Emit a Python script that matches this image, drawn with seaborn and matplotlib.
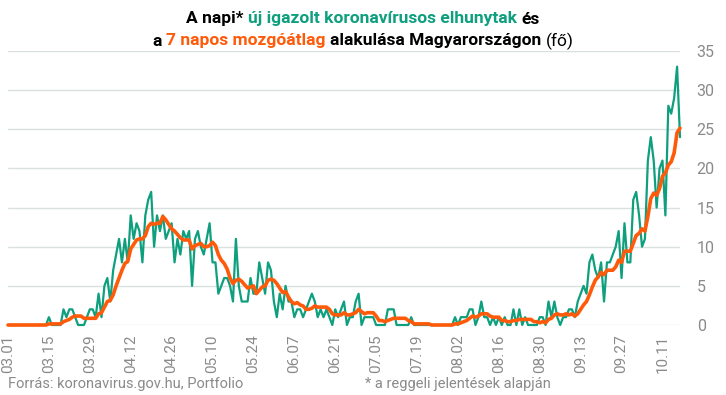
import pandas as pd
import matplotlib.pyplot as plt
import seaborn as sns

# Daily new confirmed COVID deaths in Hungary, 2020-03-01 .. 2020-10-17
start_date = "2020-03-01"
daily_deaths = [
    0, 0, 0, 0, 0, 0, 0, 0, 0, 0, 0, 0, 0, 0,            # 03.01 - 03.14
    1, 0, 0, 0, 0, 2, 1, 2, 2, 1, 0, 0, 0, 1,            # 03.15 - 03.28
    2, 2, 1, 4, 1, 5, 6, 3, 7, 9, 11, 8, 11, 8,          # 03.29 - 04.11
    14, 11, 13, 12, 8, 14, 16, 17, 10, 14, 12, 14, 11, 12,  # 04.12 - 04.25
    13, 8, 11, 9, 12, 11, 12, 5, 11, 12, 10, 9, 11, 13,  # 04.26 - 05.09
    8, 8, 4, 5, 6, 6, 5, 3, 11, 5, 3, 3, 3, 6,           # 05.10 - 05.23
    4, 4, 8, 6, 4, 8, 7, 3, 1, 4, 2, 5, 3, 3,            # 05.24 - 06.06
    1, 2, 2, 1, 2, 3, 4, 3, 1, 2, 1, 2, 1, 0,            # 06.07 - 06.20
    2, 1, 2, 3, 0, 1, 1, 3, 4, 0, 1, 1, 1, 1,            # 06.21 - 07.04
    0, 0, 0, 0, 2, 2, 2, 0, 0, 0, 0, 0, 1, 0,            # 07.05 - 07.18
    0, 0, 0, 0, 0, 0, 0, 0, 0, 0, 0, 0, 0, 1,            # 07.19 - 08.01
    0, 1, 1, 1, 2, 2, 0, 1, 3, 1, 1, 0, 1, 0,            # 08.02 - 08.15
    1, 0, 1, 0, 0, 2, 0, 2, 0, 1, 0, 0, 0, 0,            # 08.16 - 08.29
    1, 1, 0, 3, 1, 3, 1, 0, 1, 1, 2, 2, 1, 3,            # 08.30 - 09.12
    4, 5, 4, 8, 9, 7, 6, 8, 3, 8, 8, 9, 10, 12,          # 09.13 - 09.26
    6, 13, 8, 8, 16, 17, 14, 10, 11, 21, 24, 21, 15, 20, # 09.27 - 10.10
    21, 14, 28, 27, 29, 33, 24,                          # 10.11 - 10.17
]
tick_labels = ["03.01", "03.15", "03.29", "04.12", "04.26", "05.10", "05.24",
               "06.07", "06.21", "07.05", "07.19", "08.02", "08.16", "08.30",
               "09.13", "09.27", "10.11"]
y_ticks = [0, 5, 10, 15, 20, 25, 30, 35]

GREEN = "#0e9f7e"
ORANGE = "#ff5a0a"
GREY = "#8a8a8a"


def rich_line(fig, parts, y, size, cx=0.5):
    # draw several coloured pieces as one centred line
    renderer = fig.canvas.get_renderer()
    probe_a = fig.text(0, 0, "x x", fontsize=size, fontweight="bold")
    probe_b = fig.text(0, 0, "xx", fontsize=size, fontweight="bold")
    space = probe_a.get_window_extent(renderer).width - probe_b.get_window_extent(renderer).width
    probe_a.remove()
    probe_b.remove()

    texts = []
    for s, color, weight in parts:
        texts.append(fig.text(0, y, s, color=color, fontsize=size,
                              fontweight=weight, va="center", ha="left"))
    widths = [t.get_window_extent(renderer).width for t in texts]
    total = sum(widths) + space * (len(texts) - 1)
    x = fig.bbox.width * cx - total / 2
    for t, w in zip(texts, widths):
        t.set_x(x / fig.bbox.width)
        x += w + space


df = pd.DataFrame({
    "date": pd.date_range(start_date, periods=len(daily_deaths), freq="D"),
    "deaths": daily_deaths,
})
df["ma7"] = df["deaths"].rolling(7, min_periods=1).mean()

sns.set_style("white")
plt.rcParams["font.family"] = ["Roboto", "DejaVu Sans"]

fig = plt.figure(figsize=(7.26, 3.95), dpi=100)
ax = fig.add_axes([8 / 726, 70 / 395, 672 / 726, 274 / 395])

sns.lineplot(data=df, x="date", y="deaths", color=GREEN, linewidth=1.6, ax=ax, clip_on=False)
sns.lineplot(data=df, x="date", y="ma7", color=ORANGE, linewidth=2.6, ax=ax, clip_on=False)

ax.set_xlim(df["date"].iloc[0], df["date"].iloc[-1])
ax.set_ylim(0, 35)
ax.set_yticks(y_ticks)
ax.yaxis.tick_right()
ax.grid(axis="y", color="#d9e0e0", linewidth=1)
ax.set_axisbelow(True)
ax.set_xticks(df["date"].iloc[::14], tick_labels)
ax.tick_params(axis="x", length=0, pad=7, labelsize=11, labelcolor=GREY, rotation=90)
ax.tick_params(axis="y", length=0, pad=12, labelsize=11.5, labelcolor=GREY)
ax.set_xlabel("")
ax.set_ylabel("")
for sp in ax.spines.values():
    sp.set_visible(False)

rich_line(fig, [("A napi*", "black", "bold"),
                ("új igazolt koronavírusos elhunytak", GREEN, "bold"),
                ("és", "black", "bold")], 1 - 19 / 395, 12.5)
rich_line(fig, [("a", "black", "bold"),
                ("7 napos mozgóátlag", ORANGE, "bold"),
                ("alakulása Magyarországon", "black", "bold"),
                ("(fő)", "black", "normal")], 1 - 41 / 395, 12.5)

fig.text(8 / 726, 11 / 395, "Forrás: koronavirus.gov.hu, Portfolio",
         fontsize=10.5, color=GREY, va="center", ha="left")
fig.text(365 / 726, 11 / 395, "* a reggeli jelentések alapján",
         fontsize=10.5, color=GREY, va="center", ha="left")

fig.savefig("out.png", dpi=100)
plt.close(fig)
